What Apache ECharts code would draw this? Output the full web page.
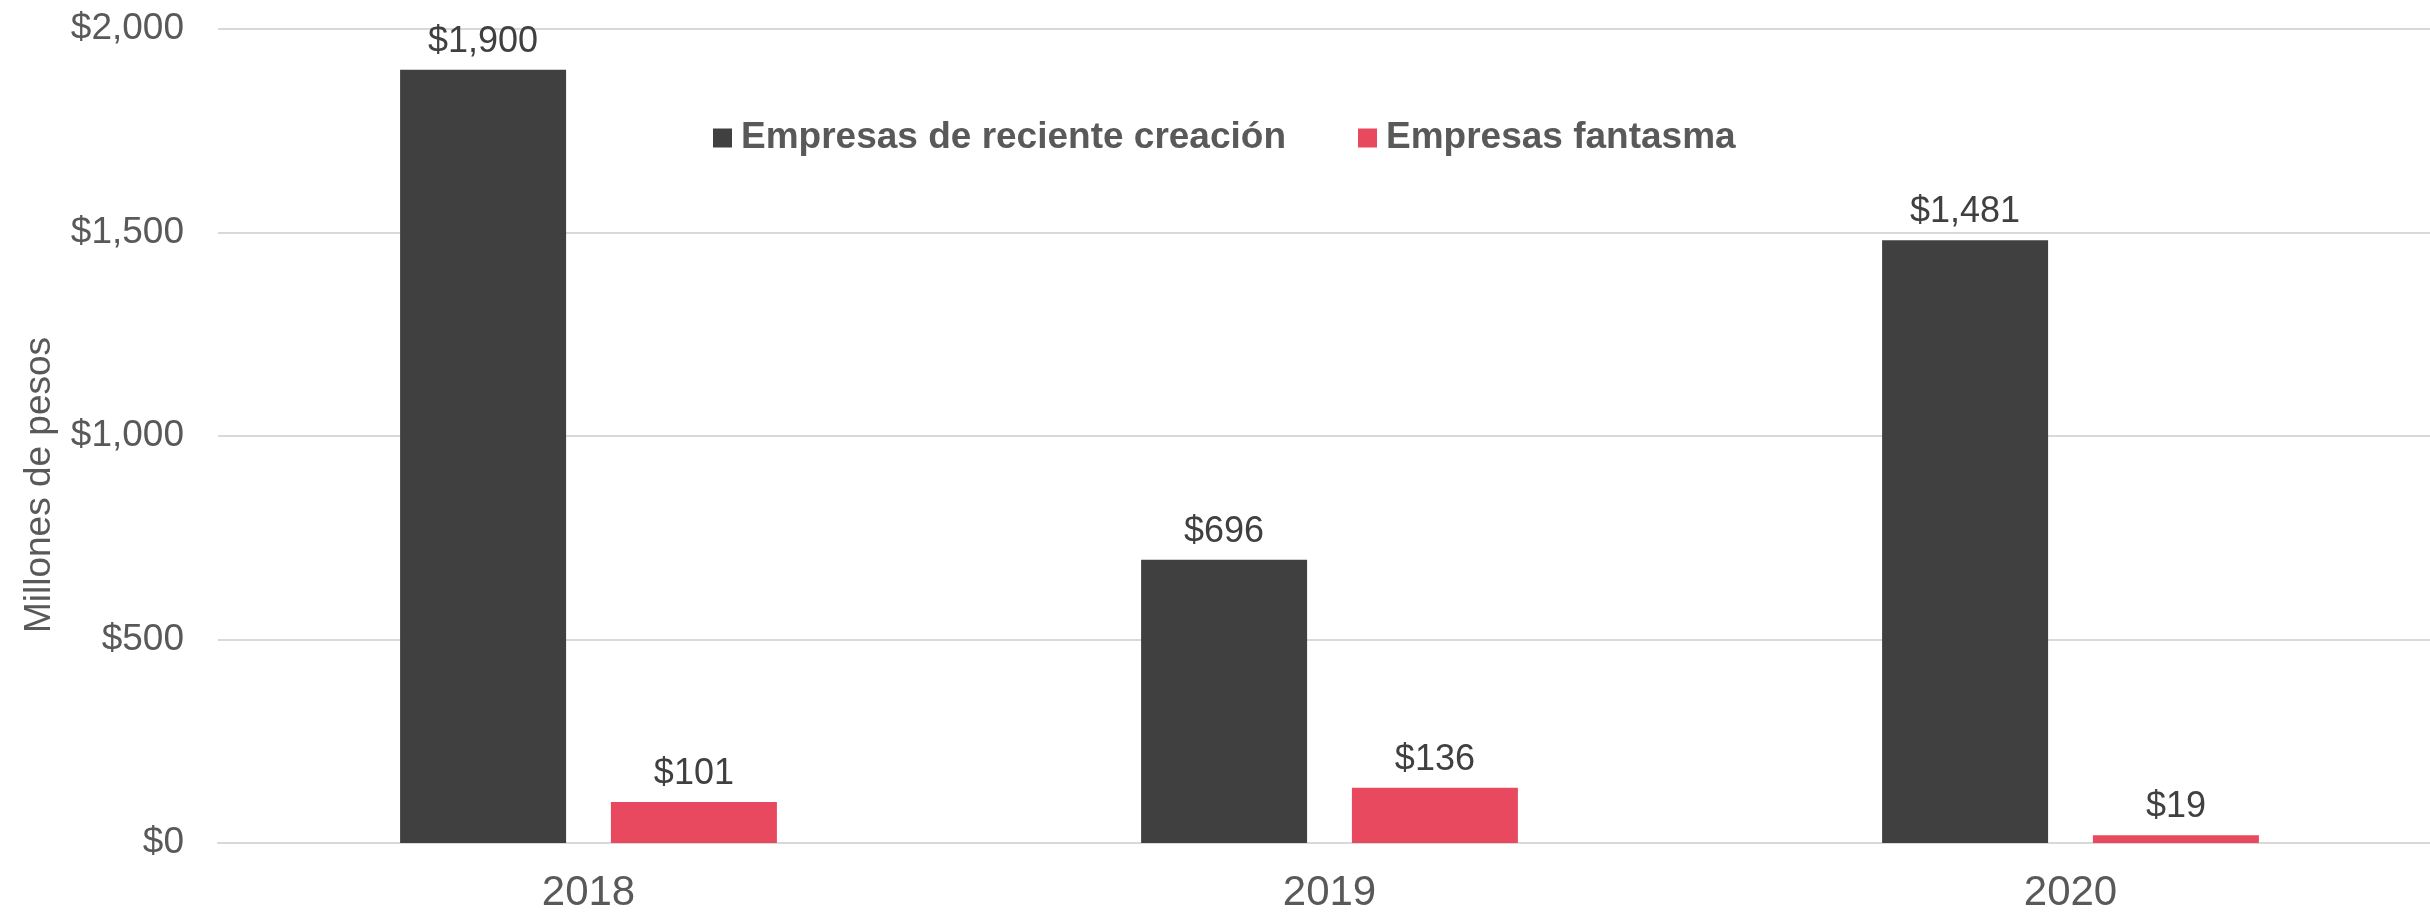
<!DOCTYPE html>
<html>
<head>
<meta charset="utf-8">
<script src="https://cdn.jsdelivr.net/npm/echarts@6/dist/echarts.min.js"></script>
<style>
    html, body { margin: 0; padding: 0; background: #fff; }
    #chart { width: 2430px; height: 912px; }
</style>
</head>
<body>
<div id="chart"></div>
<script>
    // datos
    var years = ['2018', '2019', '2020'];
    var reciente = [1900, 696, 1481];
    var fantasma = [101, 136, 19];
    var yTicks = [0, 500, 1000, 1500, 2000];

    var fontFam = '"Liberation Sans", Arial, sans-serif';

    function money(v) {
        return '$' + String(v).replace(/\B(?=(\d{3})+(?!\d))/g, ',');
    }

    var chart = echarts.init(document.getElementById('chart'));

    var barLabel = {
        show: true,
        position: 'top',
        distance: 10,
        color: '#404040',
        fontSize: 36,
        fontFamily: fontFam,
        formatter: function (p) { return money(p.value); }
    };

    chart.setOption({
        animation: false,
        backgroundColor: '#ffffff',
        textStyle: { fontFamily: fontFam },
        grid: {
            left: 218,
            top: 29,
            bottom: 69,
            width: 2223,
            outerBoundsMode: 'none'
        },
        legend: {
            left: 708,
            top: 113,
            itemWidth: 19,
            itemHeight: 19,
            itemGap: 72,
            icon: 'rect',
            textStyle: {
                color: '#595959',
                fontSize: 37,
                fontWeight: 'bold',
                fontFamily: fontFam,
                lineHeight: 40,
                padding: [0, 0, 0, 4]
            },
            data: ['Empresas de reciente creación', 'Empresas fantasma']
        },
        xAxis: {
            type: 'category',
            data: years,
            axisTick: { show: false },
            axisLine: { lineStyle: { color: '#D9D9D9', width: 2 } },
            axisLabel: {
                color: '#595959',
                fontSize: 42,
                fontFamily: fontFam,
                margin: 29
            }
        },
        yAxis: {
            type: 'value',
            min: yTicks[0],
            max: yTicks[yTicks.length - 1],
            interval: 500,
            name: 'Millones de pesos',
            nameLocation: 'middle',
            nameGap: 160,
            nameTextStyle: {
                color: '#595959',
                fontSize: 37,
                fontFamily: fontFam,
                padding: [0, 98, 0, 0]
            },
            axisLine: { show: false },
            axisTick: { show: false },
            splitLine: { lineStyle: { color: '#D9D9D9', width: 2 } },
            axisLabel: {
                color: '#595959',
                fontSize: 37,
                fontFamily: fontFam,
                margin: 34,
                formatter: money
            }
        },
        series: [
            {
                name: 'Empresas de reciente creación',
                type: 'bar',
                data: reciente,
                barWidth: 166,
                barGap: '27%',
                itemStyle: { color: '#404040' },
                label: barLabel
            },
            {
                name: 'Empresas fantasma',
                type: 'bar',
                data: fantasma,
                barWidth: 166,
                barGap: '27%',
                itemStyle: { color: '#E8495F' },
                label: barLabel
            }
        ]
    });
</script>
</body>
</html>
